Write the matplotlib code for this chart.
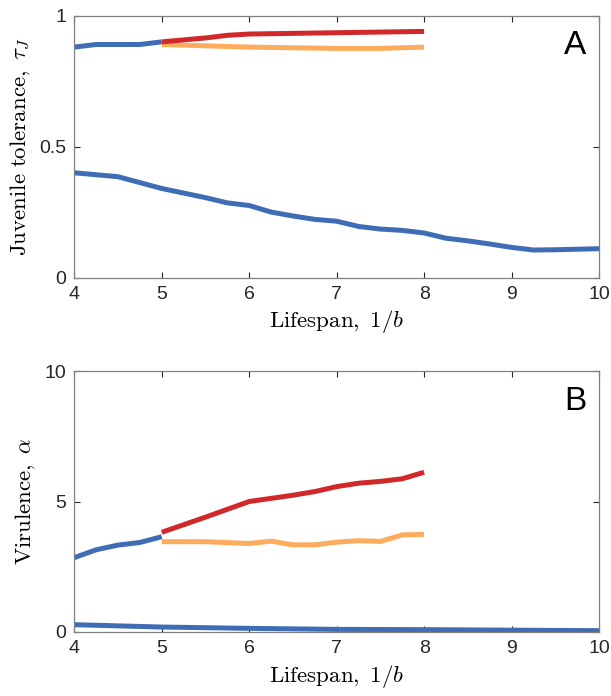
import numpy as np
import matplotlib.pyplot as plt

# --------------------------- Data ---------------------------
# Panel A: juvenile tolerance
a_blue_hi_x = [4, 4.25, 4.5, 4.75, 5]
a_blue_hi_y = [0.88, 0.89, 0.89, 0.89, 0.90]
a_blue_lo_x = [4, 4.5, 5, 5.5, 5.75, 6, 6.25, 6.5, 6.75, 7, 7.25, 7.5, 7.75, 8,
               8.25, 8.5, 8.75, 9, 9.25, 9.5, 10]
a_blue_lo_y = [0.40, 0.385, 0.34, 0.305, 0.285, 0.275, 0.25, 0.235, 0.222, 0.215,
               0.195, 0.185, 0.18, 0.17, 0.15, 0.14, 0.128, 0.115, 0.105, 0.106, 0.11]
a_red_x = [5, 5.5, 5.75, 6, 7, 8]
a_red_y = [0.90, 0.915, 0.925, 0.93, 0.935, 0.94]
a_orange_x = [5, 6, 7, 7.5, 8]
a_orange_y = [0.89, 0.88, 0.875, 0.875, 0.88]

# Panel B: virulence
b_blue_hi_x = [4, 4.25, 4.5, 4.75, 5]
b_blue_hi_y = [2.85, 3.15, 3.33, 3.43, 3.65]
b_blue_lo_x = [4, 5, 6, 7, 8, 9, 10]
b_blue_lo_y = [0.28, 0.19, 0.14, 0.10, 0.09, 0.07, 0.05]
b_red_x = [5, 5.5, 6, 6.5, 6.75, 7, 7.25, 7.5, 7.75, 8]
b_red_y = [3.82, 4.4, 5.0, 5.24, 5.38, 5.57, 5.7, 5.77, 5.87, 6.12]
b_orange_x = [5, 5.5, 6, 6.25, 6.5, 6.75, 7, 7.25, 7.5, 7.75, 8]
b_orange_y = [3.46, 3.46, 3.39, 3.48, 3.34, 3.34, 3.44, 3.5, 3.47, 3.72, 3.74]

blue = '#3f6db5'
red = '#d1282a'
orange = '#fdab5d'
lw = 3.6

plt.rcParams['mathtext.fontset'] = 'cm'
plt.rcParams['font.family'] = ['Liberation Sans', 'DejaVu Sans']

fig = plt.figure(figsize=(6.11, 6.96), dpi=100)
ax1 = fig.add_axes([74.3 / 611, 1 - 277.5 / 696, 524.7 / 611, 261.8 / 696])
ax2 = fig.add_axes([74.3 / 611, 1 - 632 / 696, 524.7 / 611, 261 / 696])

def draw(ax, xs, ys, color):
    ax.plot(xs, ys, color=color, lw=lw, solid_capstyle='butt', solid_joinstyle='round')

draw(ax1, a_blue_hi_x, a_blue_hi_y, blue)
draw(ax1, a_blue_lo_x, a_blue_lo_y, blue)
draw(ax1, a_orange_x, a_orange_y, orange)
draw(ax1, a_red_x, a_red_y, red)
ax1.set_ylim(0, 1)
ax1.set_yticks([0, 0.5, 1])
ax1.set_yticklabels(['0', '0.5', '1'])
ax1.set_ylabel(r'$\mathrm{Juvenile\ tolerance,}\ \tau_J$', fontsize=16.5, labelpad=5)

draw(ax2, b_blue_hi_x, b_blue_hi_y, blue)
draw(ax2, b_blue_lo_x, b_blue_lo_y, blue)
draw(ax2, b_orange_x, b_orange_y, orange)
draw(ax2, b_red_x, b_red_y, red)
ax2.set_ylim(0, 10)
ax2.set_yticks([0, 5, 10])
ax2.set_ylabel(r'$\mathrm{Virulence,}\ \alpha$', fontsize=16.5, labelpad=5)

for ax, letter in [(ax1, 'A'), (ax2, 'B')]:
    ax.set_xlim(4, 10)
    ax.set_xticks([4, 5, 6, 7, 8, 9, 10])
    ax.set_xlabel(r'$\mathrm{Lifespan,}\ 1/b$', fontsize=16.5, labelpad=4)
    ax.tick_params(direction='in', top=True, right=True, labelsize=14, colors='#262626',
                   length=4, width=0.8, pad=6)
    for s in ax.spines.values():
        s.set_color('#808080')
        s.set_linewidth(0.9)
    ax.text(0.955, 0.885, letter, transform=ax.transAxes, fontsize=24,
            ha='center', va='center')

fig.savefig('out.png', dpi=100)
